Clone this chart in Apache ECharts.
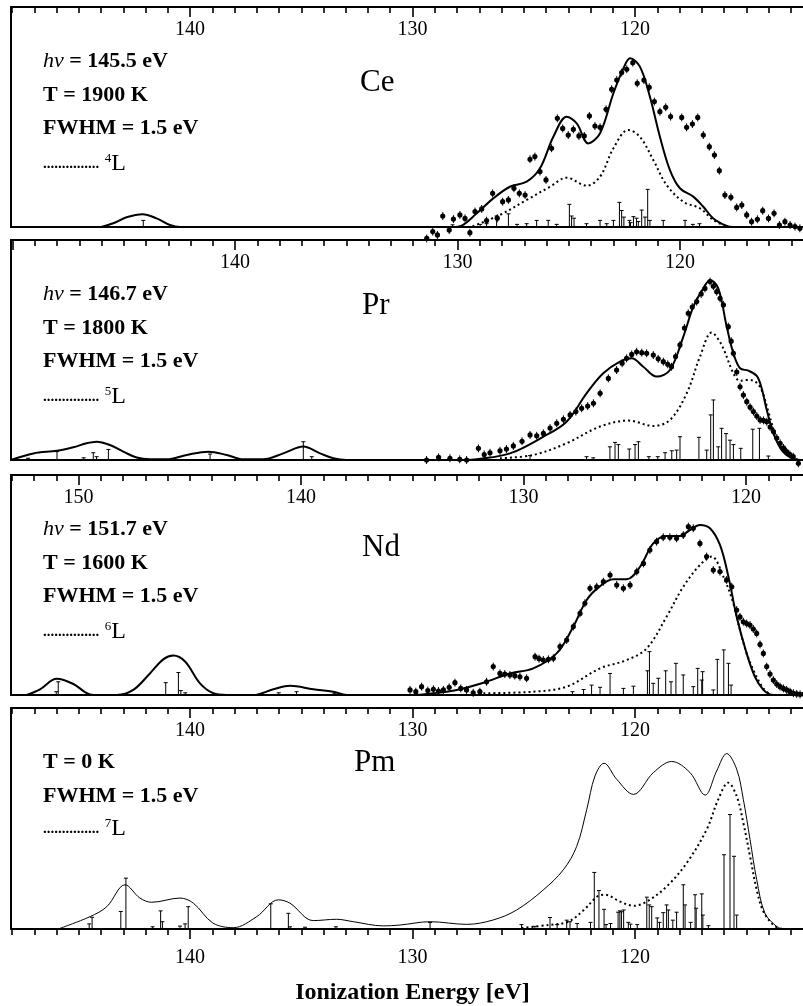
<!DOCTYPE html>
<html><head><meta charset="utf-8">
<script src="https://cdn.jsdelivr.net/npm/echarts@6/dist/echarts.min.js"></script>
<style>html,body{margin:0;padding:0;background:#fff}#c{width:803px;height:1006px}</style>
</head><body><div id="c"></div>
<script>
// ---------------- DATA (energy eV, intensity in arbitrary units, 0..100 = panel height) ----------------
const tickValues = [110, 120, 130, 140, 150];

// Ce
const ceSolid = [[144.0,0],[143.45,1.7],[142.85,4.4],[142.13,5.8],[141.5,3.9],[140.9,0.9],[140.45,0],[128.2,0],[127.79,0.6],[127.11,6.2],[126.37,13],[125.62,18.3],[124.87,20.6],[124.27,26.7],[123.67,41],[123.07,50.1],[122.62,47.1],[122.1,38],[121.57,42.6],[120.97,60.8],[120.52,72.1],[120.22,76.7],[119.78,72.9],[119.33,59.2],[118.88,41],[118.43,25.9],[117.98,17.6],[117.38,13.8],[116.93,9.2],[116.48,3.9],[115.88,0.5],[115.6,0],[112,0]];
const ceDotted = [[127.3,0.3],[126.07,5.5],[124.87,12.3],[123.82,18.3],[123.07,22.4],[122.17,18.8],[121.57,22.9],[120.97,35.8],[120.3,44.1],[119.78,41],[119.18,30.5],[118.58,19.1],[117.83,11.5],[117.08,8.5],[116.48,3.2],[115.88,0.3]];
const ceExp = [[129.36,-5.2],[129.09,-2.1],[128.88,-3.6],[128.64,5.0],[128.35,-1.4],[128.16,3.6],[127.87,5.5],[127.64,3.9],[127.42,-2.6],[127.19,7.0],[126.89,8.2],[126.67,2.9],[126.4,15.3],[126.19,4.0],[125.95,11.5],[125.69,12.3],[125.44,17.6],[125.2,15.3],[124.94,14.5],[124.72,30.8],[124.5,32.0],[124.27,25.2],[124.0,21.4],[123.75,35.8],[123.49,49.4],[123.25,44.8],[123.0,41.8],[122.77,44.4],[122.52,41.4],[122.28,41.4],[122.05,50.5],[121.8,45.9],[121.57,45.3],[121.3,53.5],[121.05,62.6],[120.82,66.8],[120.6,70.2],[120.37,71.7],[120.1,74.7],[119.9,65.3],[119.6,66.8],[119.36,63.5],[119.13,57.0],[118.88,52.4],[118.62,54.4],[118.4,50.2],[117.9,49.8],[117.68,45.3],[117.42,46.8],[117.18,49.8],[116.93,41.8],[116.66,36.5],[116.43,32.7],[116.21,25.6],[115.96,14.5],[115.69,13.5],[115.43,8.9],[115.2,10.0],[114.98,5.5],[114.76,2.4],[114.5,3.5],[114.26,7.4],[114.0,3.9],[113.75,6.2],[113.51,0.9],[113.26,2.4],[113.03,0.9],[112.81,0.2],[112.59,-0.6]];
const ceSticks = [[142.1,3],[128.2,1],[126.96,1.2],[126.67,1.5],[126.22,5],[125.69,6],[125.3,1.2],[124.87,1.5],[124.42,3],[123.9,3],[123.52,1.2],[122.95,10.3],[122.85,5],[122.74,4],[122.18,1.5],[121.57,3],[121.27,1.5],[120.97,3],[120.7,11.2],[120.6,7.5],[120.5,4.5],[120.25,3],[120.2,2],[120.07,4.7],[119.93,4],[119.85,2.5],[119.7,7.7],[119.55,4.5],[119.43,17.1],[119.33,3],[118.73,3],[117.75,3],[117.4,1.2],[117.1,1.5]];

// Pr
const prSolid = [[150.07,0],[149.06,3.0],[148.0,4.2],[147.27,5.8],[146.67,7.6],[146.22,8.3],[145.62,6.8],[145.02,3.8],[144.42,1.1],[143.82,0.3],[143.07,0.3],[142.17,2.3],[141.2,3.8],[140.37,2.3],[139.63,0.3],[138.73,0.3],[137.83,3],[136.93,6.1],[136.18,3],[135.58,0.8],[134.98,0],[129.6,0],[129.14,0.3],[127.64,3.0],[126.14,10.6],[125.1,17.4],[124.2,30.3],[123.45,39.4],[122.7,44.7],[122.17,46.2],[121.65,42.4],[121.05,37.9],[120.45,40.9],[119.85,56.1],[119.4,69.7],[118.95,78],[118.65,81.8],[118.28,78],[117.9,60.6],[117.6,48.5],[117.3,41.7],[116.93,40.6],[116.55,38.2],[116.33,32.6],[116.1,22.7],[115.8,12.1],[115.43,4.5],[114.98,0.8],[114.6,0],[114,0]];
const prDotted = [[128.09,0.8],[126.59,2.3],[125.1,7.6],[123.6,15.2],[122.32,17.9],[121.2,15.5],[120.45,18.2],[119.7,30.3],[119.1,47],[118.58,57.9],[118.13,52.3],[117.6,39.4],[117.3,36],[116.93,36.4],[116.6,35.5],[116.33,31.8],[116.03,22],[115.73,12],[115.43,5.5],[115.06,1.5],[114.6,0]];
const prExp = [[131.39,0],[130.85,1.2],[130.34,0.8],[129.9,0.3],[129.59,0],[129.06,5.3],[128.8,2.5],[128.54,3.3],[128.09,4.2],[127.8,5.0],[127.49,6.4],[127.1,8.5],[126.74,11.4],[126.44,11.0],[126.14,12.1],[125.84,14.5],[125.54,16.7],[125.24,18.5],[124.94,20.5],[124.68,22.0],[124.42,23.5],[124.15,24.5],[123.89,25.8],[123.59,30.3],[123.22,37.1],[122.85,40.9],[122.6,44.0],[122.4,46.2],[122.17,48.0],[121.95,49.2],[121.72,48.8],[121.5,48.5],[121.2,47.7],[120.98,46.0],[120.75,44.7],[120.55,43.5],[120.38,42.4],[120.2,47.0],[120.0,52.3],[119.8,60.0],[119.63,66.7],[119.45,69.5],[119.25,72.0],[119.05,75.5],[118.88,78.0],[118.65,81.1],[118.5,79.0],[118.35,76.5],[118.2,73.5],[118.05,70.5],[117.83,60.6],[117.7,54.0],[117.6,48.5],[117.45,40.0],[117.3,33.3],[117.15,29.5],[117.0,26.5],[116.85,24.0],[116.7,22.0],[116.55,20.0],[116.4,18.2],[116.25,18.0],[116.1,17.4],[115.95,15.0],[115.8,12.9],[115.65,10.0],[115.5,7.6],[115.35,5.5],[115.21,3.8],[115.06,2.5],[114.91,1.5],[114.68,-1.5]];
const prSticks = [[149.3,0.8],[148.0,3.8],[146.8,1],[146.37,3.3],[146.22,1.5],[145.69,4.8],[141.12,2.7],[136.93,8.3],[136.55,1.5],[126.74,2],[124.2,1.5],[123.9,1],[123.15,6],[122.92,8],[122.77,7],[122.28,5],[122.02,7],[121.87,8.3],[121.4,1.5],[121.0,1.5],[120.67,3.3],[120.37,4.2],[120.15,4.5],[120.0,10.6],[119.15,10.3],[118.8,4.5],[118.62,20.5],[118.5,27.3],[118.28,6],[118.13,14.4],[117.93,12],[117.75,9],[117.6,7],[117.27,5.3],[116.73,14],[116.43,14.4],[116.03,1.8]];

// Nd
const ndSolid = [[152.33,0],[151.73,2.6],[150.98,7.4],[150.23,5],[149.63,0.8],[149.33,0],[148.28,0],[147.54,2.3],[146.79,9.8],[146.19,16.2],[145.74,17.9],[145.21,15.2],[144.54,5.3],[143.94,0.8],[143.34,0],[142.14,0],[141.24,2.6],[140.49,4.2],[139.45,2.6],[138.55,1.5],[137.95,0],[135,0],[134.05,0.8],[133.0,2.3],[131.8,5.6],[130.61,9.8],[129.56,12.1],[128.51,18.9],[127.76,31.1],[127.16,43.2],[126.56,49.5],[125.96,52.6],[125.36,52.6],[124.76,58.3],[124.17,68.9],[123.57,72.3],[122.97,72.3],[122.52,75],[122.07,77.3],[121.62,75.8],[121.17,68.2],[120.79,53.8],[120.42,35.6],[119.97,18.9],[119.6,8.3],[119.22,2.3],[118.92,0.3],[118.6,0],[117,0]];
const ndDotted = [[131.8,0.8],[129.56,1.5],[128.06,3.8],[126.56,12.1],[125.36,15.9],[124.46,21.2],[123.57,35.6],[122.82,49.2],[122.07,59.1],[121.54,62.9],[121.02,53.8],[120.57,41.7],[120.27,29.5],[119.97,18.9],[119.6,9.8],[119.22,3],[118.92,0.3]];
const ndExp = [[135.1,2.3],[134.84,1.5],[134.58,3.8],[134.3,2.0],[134.05,2.6],[133.82,1.8],[133.6,2.3],[133.34,3.5],[133.08,5.6],[132.82,3.0],[132.56,2.3],[132.26,1.0],[131.96,1.5],[131.66,6.0],[131.36,12.9],[131.06,9.8],[130.84,9.5],[130.61,9.1],[130.39,8.8],[130.16,8.3],[129.86,7.6],[129.48,17.4],[129.3,16.5],[129.11,15.9],[128.88,16.2],[128.66,16.7],[128.36,22],[128.06,25],[127.76,31.1],[127.46,37.1],[127.24,41.7],[127.01,48.5],[126.71,49.2],[126.41,51.5],[126.11,54.5],[125.81,50],[125.51,48.5],[125.21,50],[124.91,56.1],[124.61,59.8],[124.32,65.9],[124.02,69.7],[123.72,71.7],[123.42,71.7],[123.12,71.2],[122.82,72.7],[122.59,76.5],[122.37,75.8],[122.07,68.9],[121.77,62.9],[121.47,56.8],[121.17,56.1],[120.87,52.3],[120.64,49.2],[120.42,38.6],[120.27,35.5],[120.12,33.3],[119.97,32.5],[119.82,31.8],[119.67,30.0],[119.52,28],[119.37,23.0],[119.22,18.9],[119.07,12.9],[118.92,9.5],[118.77,6.8],[118.62,5.0],[118.47,3.8],[118.32,3.0],[118.17,2.3],[118.02,1.5],[117.87,0.8],[117.72,0.5],[117.57,0.3],[117.4,0.3]];
const ndSticks = [[151.0,1.5],[150.91,6],[146.08,5.6],[145.51,10.2],[145.4,2],[145.2,1],[141.0,1],[140.2,1.5],[138.5,0.8],[127.8,1.5],[127.3,2.5],[126.94,4.5],[126.56,3.5],[126.11,9.8],[125.51,3],[125.06,4],[124.43,11],[124.34,19.7],[124.17,5.3],[123.94,7.6],[123.61,11],[123.37,6],[123.15,14.4],[122.82,9.1],[122.37,3.8],[122.17,12.1],[121.99,6.8],[121.95,10.6],[121.47,2.3],[121.29,16.2],[121.0,20.5],[120.79,14.4],[120.67,4.5]];

// Pm
const pmSolid = [[145.93,0],[144.49,5.6],[143.74,10.1],[142.92,20],[142.25,14],[141.72,12.1],[140.45,14],[139.85,11.7],[138.97,2.7],[138.05,0.6],[137.0,5.6],[136.03,13.2],[135.51,11.7],[134.46,3.8],[133.41,4.4],[132.66,3.3],[131.31,1.4],[130.56,1.8],[129.21,3.3],[127.56,2.1],[126.37,4.1],[125.32,8.6],[124.12,17.7],[123.22,26.8],[122.62,37.4],[122.17,54],[121.8,69.2],[121.39,75],[120.82,67.7],[120.07,60.9],[119.17,70.8],[118.35,75.8],[117.53,70.8],[116.85,60.6],[116.33,71.5],[115.88,79.4],[115.43,72.3],[115.13,58.6],[114.83,40.5],[114.53,22.3],[114.16,7.1],[113.63,1.1],[113.4,0]];
const pmDotted = [[125.1,0.5],[123.9,1.8],[123.0,3.3],[122.3,8.6],[121.7,14.7],[121.35,15.5],[120.67,12.4],[120.07,10.5],[119.47,12.4],[118.58,19.2],[117.68,29.8],[116.78,45],[116.26,58.6],[115.81,66.2],[115.43,60.1],[115.13,48],[114.83,32.9],[114.53,17.7],[114.23,7.9],[113.78,1.8],[113.4,0]];
const pmSticks = [[144.53,2.3],[144.4,5.3],[143.11,7.9],[142.88,23],[141.68,1],[141.32,8.2],[141.24,3.3],[140.45,1.3],[140.22,2.3],[140.08,10.1],[136.37,11.4],[135.58,7.1],[135.5,1],[134.83,0.8],[133.44,1],[129.21,2.9],[125.1,2],[124.5,1.2],[123.82,5.2],[123.5,2],[123.07,4],[122.92,3.3],[122.6,2.5],[122.0,3],[121.83,25.6],[121.62,17.4],[121.39,8.9],[121.3,2],[121.1,2.5],[120.76,7.6],[120.68,8.2],[120.61,7.8],[120.51,8.6],[120.3,3],[120.2,2.2],[119.9,2],[119.47,14.4],[119.36,10.9],[119.25,10.1],[119.0,5],[118.9,3],[118.73,7.4],[118.58,10.9],[118.5,8.6],[118.3,4],[118.13,7.6],[117.83,20],[117.75,10.9],[117.5,3],[117.3,15.5],[117.25,9.4],[117.0,15.9],[116.95,6.3],[116.7,1.5],[116.0,33.6],[115.73,51.8],[115.55,32.9],[115.43,6.3]];

const expError = 1.8;   // half-length of the error bars (intensity units)

// ---------------- LAYOUT ----------------
const W = 803, PX = 22.25, FL = 11, FR = -10;
const SERIF = '"Liberation Serif","Times New Roman",Times,serif';
const panels = [
  {el:'Ce', top:7,   h:220, x140:190, solid:ceSolid, dotted:ceDotted, exp:ceExp, sticks:ceSticks, lw:2,
   lines:['{i|hν} = 145.5 eV','T = 1900 K','FWHM = 1.5 eV'], sup:'4', labX:360, labDy:76},
  {el:'Pr', top:240, h:220, x140:235, solid:prSolid, dotted:prDotted, exp:prExp, sticks:prSticks, lw:2,
   lines:['{i|hν} = 146.7 eV','T = 1800 K','FWHM = 1.5 eV'], sup:'5', labX:362, labDy:66},
  {el:'Nd', top:475, h:220, x140:301, solid:ndSolid, dotted:ndDotted, exp:ndExp, sticks:ndSticks, lw:2,
   lines:['{i|hν} = 151.7 eV','T = 1600 K','FWHM = 1.5 eV'], sup:'6', labX:362, labDy:73},
  {el:'Pm', top:708, h:221, x140:190, solid:pmSolid, dotted:pmDotted, exp:null, sticks:pmSticks, lw:1,
   lines:['T = 0 K','FWHM = 1.5 eV'], sup:'7', labX:354, labDy:55, bottomAxis:true}
];
const rowDy = [54, 88, 121, 157];

const grids = [], xAxes = [], yAxes = [], series = [], graphics = [];
const lineStyleBlack = {color:'#000', width:2};

function stickRender(params, api) {
  const e = api.value(0), h = api.value(1);
  const b = api.coord([e, 0]), t = api.coord([e, h]);
  return {type:'group', children:[
    {type:'line', shape:{x1:b[0], y1:b[1], x2:t[0], y2:t[1]}, style:{stroke:'#000', lineWidth:1}},
    {type:'line', shape:{x1:t[0]-2, y1:t[1], x2:t[0]+2, y2:t[1]}, style:{stroke:'#000', lineWidth:1}}
  ]};
}
function expRender(params, api) {
  const e = api.value(0), v = api.value(1);
  const p = api.coord([e, v]);
  const t = api.coord([e, v + expError]), b = api.coord([e, v - expError]);
  return {type:'group', children:[
    {type:'line', shape:{x1:p[0], y1:t[1], x2:p[0], y2:b[1]}, style:{stroke:'#000', lineWidth:1}},
    {type:'circle', shape:{cx:p[0], cy:p[1], r:2.6}, style:{fill:'#000'}}
  ]};
}

panels.forEach(function (P) {
  const fw = W - FL - FR;
  const fMax = 140 + (P.x140 - FL) / PX;
  const fMin = fMax - fw / PX;
  const tMin = tickValues[0] - 10, tMax = tickValues[tickValues.length-1] + 10;
  const tLeft = P.x140 - (tMax - 140) * PX;
  const fg = grids.length;
  grids.push({left:FL, top:P.top, width:fw, height:P.h, outerBoundsMode:'none', containLabel:false});
  const tg = grids.length;
  grids.push({left:tLeft, top:P.top, width:(tMax - tMin) * PX, height:P.h, outerBoundsMode:'none', containLabel:false});

  const frameAxis = function (pos) {
    return {gridIndex:fg, type:'value', position:pos, min:fMin, max:fMax, inverse:true,
      axisLine:{show:true, onZero:false, lineStyle:lineStyleBlack},
      axisTick:{show:false}, axisLabel:{show:false}, splitLine:{show:false}};
  };
  const xTop = xAxes.length; xAxes.push(frameAxis('top'));
  xAxes.push(frameAxis('bottom'));
  const yF = yAxes.length;
  yAxes.push({gridIndex:fg, type:'value', min:0, max:100, position:'left',
    axisLine:{show:true, onZero:false, lineStyle:lineStyleBlack},
    axisTick:{show:false}, axisLabel:{show:false}, splitLine:{show:false}});

  const fmt = function (v) { return (v < fMax - 0.5 && v > fMin + 0.5) ? String(v) : ''; };
  const tickAxis = function (pos, inside) {
    return {gridIndex:tg, type:'value', position:pos, min:tMin, max:tMax, interval:10, inverse:true,
      axisLine:{show:false, onZero:false},
      axisTick:{show:true, inside:inside, length:10, lineStyle:{color:'#000', width:1.6}},
      minorTick:{show:true, splitNumber:10, length:6, lineStyle:{color:'#000', width:1.6}},
      axisLabel:{show:true, inside:inside, margin: inside ? 13 : 19, formatter:fmt,
        color:'#000', fontFamily:SERIF, fontSize:20},
      splitLine:{show:false}, minorSplitLine:{show:false}};
  };
  xAxes.push(tickAxis('top', true));
  if (P.bottomAxis) {
    const ax = tickAxis('bottom', false);
    ax.name = 'Ionization Energy [eV]';
    ax.nameLocation = 'middle';
    ax.nameGap = 52;
    ax.nameTextStyle = {color:'#000', fontFamily:SERIF, fontSize:24, fontWeight:'bold'};
    xAxes.push(ax);
  }
  yAxes.push({gridIndex:tg, type:'value', min:0, max:100, show:false});

  series.push({type:'custom', xAxisIndex:xTop, yAxisIndex:yF, renderItem:stickRender, data:P.sticks,
    encode:{x:0, y:1}, clip:true, silent:true, z:2});
  series.push({type:'line', xAxisIndex:xTop, yAxisIndex:yF, data:P.dotted, showSymbol:false, smooth:0.35,
    lineStyle:{color:'#000', width:2, type:[2,3]}, silent:true, z:3});
  series.push({type:'line', xAxisIndex:xTop, yAxisIndex:yF, data:P.solid, showSymbol:false, smooth:0.35,
    lineStyle:{color:'#000', width:P.lw}, silent:true, z:4});
  if (P.exp) {
    series.push({type:'custom', xAxisIndex:xTop, yAxisIndex:yF, renderItem:expRender, data:P.exp,
      encode:{x:0, y:1}, clip:false, silent:true, z:5});
  }

  const baseFont = {fontFamily:SERIF, fontSize:22, fontWeight:'bold', fill:'#000'};
  P.lines.forEach(function (t, k) {
    graphics.push({type:'text', x:43, y:P.top + rowDy[k], silent:true,
      style:Object.assign({text:t, verticalAlign:'middle',
        rich:{i:{fontFamily:SERIF, fontSize:22, fontStyle:'italic', fontWeight:'normal', fill:'#000'}}}, baseFont)});
  });
  graphics.push({type:'text', x:43, y:P.top + rowDy[P.lines.length] , silent:true,
    style:{text:'{d|...............} {s|' + P.sup + '}{l|L}', verticalAlign:'middle', fill:'#000',
      fontFamily:SERIF, fontSize:22,
      rich:{d:{fontFamily:SERIF, fontSize:15, fontWeight:'bold', fill:'#000', verticalAlign:'bottom', padding:[0,0,4,0]},
            s:{fontFamily:SERIF, fontSize:13, fill:'#000', verticalAlign:'top'},
            l:{fontFamily:SERIF, fontSize:24, fill:'#000', verticalAlign:'bottom'}}}});
  graphics.push({type:'text', x:P.labX, y:P.top + P.labDy, silent:true,
    style:{text:P.el, fontFamily:SERIF, fontSize:31, fill:'#000', verticalAlign:'middle'}});
});

const chart = echarts.init(document.getElementById('c'));
chart.setOption({
  animation:false,
  backgroundColor:'#fff',
  grid:grids, xAxis:xAxes, yAxis:yAxes, series:series, graphic:graphics
});
</script></body></html>
